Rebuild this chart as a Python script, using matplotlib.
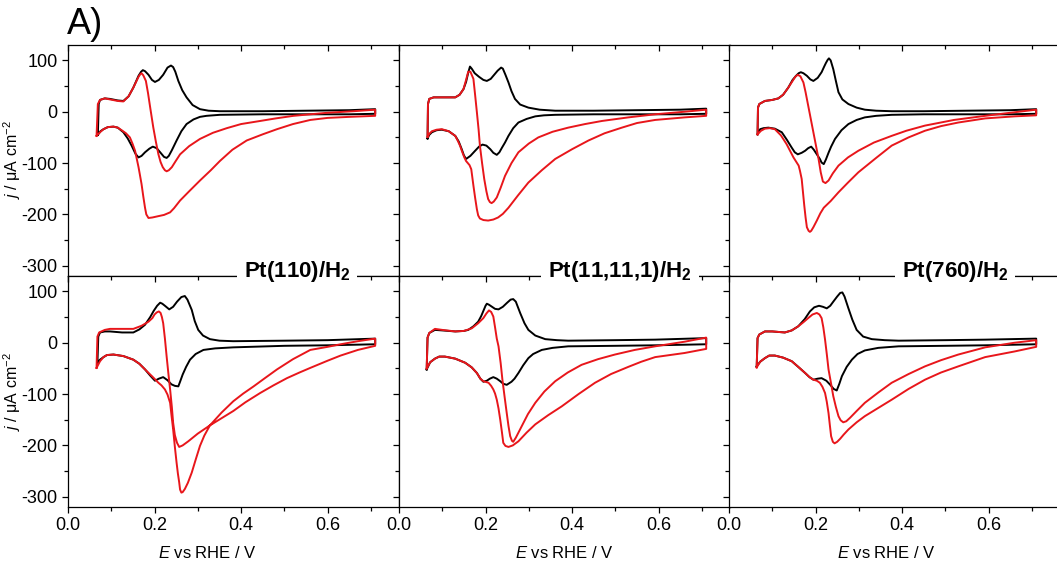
import matplotlib
matplotlib.use("Agg")
import matplotlib.pyplot as plt
from matplotlib.ticker import MultipleLocator

plt.rcParams['font.family'] = ['Liberation Sans', 'DejaVu Sans']
plt.rcParams['mathtext.fontset'] = 'custom'
plt.rcParams['mathtext.rm'] = 'Liberation Sans'
plt.rcParams['mathtext.it'] = 'Liberation Sans:italic'
plt.rcParams['mathtext.bf'] = 'Liberation Sans:bold'
plt.rcParams['axes.unicode_minus'] = False

# ---- data: E / V vs RHE, j / uA cm-2 ----
labels = ['Pt(110)/H$_\\mathbf{2}$', 'Pt(11,11,1)/H$_\\mathbf{2}$', 'Pt(760)/H$_\\mathbf{2}$']

# top row, Pt(110)
p1_top_black_E = [0.069, 0.071, 0.074, 0.085, 0.097, 0.115, 0.128, 0.140, 0.151, 0.163, 0.169, 0.173, 0.178, 0.186, 0.194, 0.201, 0.210, 0.220, 0.230, 0.238, 0.243, 0.248, 0.255, 0.264, 0.274, 0.288, 0.305, 0.325, 0.351, 0.45, 0.55, 0.65, 0.71,
                  0.71, 0.65, 0.55, 0.45, 0.351, 0.320, 0.305, 0.290, 0.274, 0.262, 0.251, 0.240, 0.233, 0.228, 0.222, 0.213, 0.205, 0.196, 0.188, 0.178, 0.170, 0.163, 0.156, 0.147, 0.138, 0.128, 0.115, 0.105, 0.092, 0.082, 0.075, 0.069]
p1_top_black_j = [-45, 15, 23, 26, 25, 22, 21, 30, 47, 70, 78, 81, 79, 72, 62, 58, 62, 72, 86, 90, 87, 78, 60, 42, 28, 13, 5, 2, 1, 1, 2, 3, 5,
                  -4, -5, -5, -5, -6, -8, -10, -15, -24, -38, -56, -75, -86, -90, -88, -79, -71, -68, -72, -79, -86, -89, -82, -66, -52, -40, -31, -29, -30, -34, -38, -45]
p1_top_red_E = [0.066, 0.069, 0.074, 0.085, 0.097, 0.115, 0.128, 0.140, 0.151, 0.163, 0.167, 0.170, 0.174, 0.180, 0.185, 0.190, 0.197, 0.203, 0.209, 0.214, 0.219, 0.224, 0.228, 0.233, 0.240, 0.249, 0.259, 0.28, 0.305, 0.335, 0.367, 0.40, 0.444, 0.48, 0.521, 0.56, 0.60, 0.66, 0.71,
                0.71, 0.65, 0.60, 0.56, 0.52, 0.483, 0.45, 0.413, 0.38, 0.351, 0.33, 0.305, 0.28, 0.259, 0.245, 0.236, 0.222, 0.211, 0.195, 0.186, 0.181, 0.178, 0.174, 0.170, 0.166, 0.163, 0.159, 0.155, 0.149, 0.143, 0.134, 0.124, 0.115, 0.105, 0.092, 0.082, 0.074, 0.066]
p1_top_red_j = [-47, 15, 23, 26, 24, 21, 20, 30, 47, 68, 73, 75, 71, 60, 36, 8, -30, -58, -83, -98, -108, -114, -116, -114, -108, -96, -83, -67, -53, -41, -32, -24, -18, -13, -8, -5, -2, 1, 4,
                -8, -10, -12, -16, -24, -34, -44, -56, -74, -96, -114, -134, -155, -173, -188, -196, -201, -203, -206, -207, -200, -187, -165, -141, -122, -108, -92, -76, -62, -50, -42, -36, -31, -29, -30, -34, -40, -47]

# top row, Pt(11,11,1)
p2_top_black_E = [0.066, 0.067, 0.070, 0.080, 0.091, 0.110, 0.130, 0.140, 0.149, 0.155, 0.160, 0.164, 0.168, 0.175, 0.185, 0.195, 0.203, 0.212, 0.220, 0.228, 0.236, 0.240, 0.246, 0.253, 0.260, 0.268, 0.280, 0.299, 0.325, 0.361, 0.45, 0.55, 0.65, 0.71,
                  0.71, 0.65, 0.55, 0.45, 0.361, 0.335, 0.315, 0.295, 0.276, 0.264, 0.253, 0.245, 0.238, 0.232, 0.226, 0.218, 0.211, 0.202, 0.193, 0.185, 0.176, 0.165, 0.155, 0.150, 0.145, 0.138, 0.130, 0.115, 0.099, 0.087, 0.076, 0.070, 0.066]
p2_top_black_j = [-52, 15, 25, 28, 28, 28, 28, 33, 44, 58, 76, 88, 84, 75, 68, 62, 60, 64, 72, 80, 86, 84, 72, 57, 40, 25, 14, 8, 4, 2, 2, 3, 4, 6,
                  -4, -5, -5, -5, -6, -7, -9, -14, -21, -32, -47, -60, -70, -79, -84, -80, -73, -66, -64, -68, -76, -86, -92, -85, -73, -58, -47, -38, -35, -36, -40, -45, -52]
p2_top_red_E = [0.066, 0.067, 0.070, 0.080, 0.091, 0.110, 0.130, 0.140, 0.149, 0.155, 0.160, 0.165, 0.172, 0.176, 0.180, 0.184, 0.187, 0.192, 0.197, 0.202, 0.206, 0.210, 0.214, 0.219, 0.226, 0.235, 0.245, 0.26, 0.276, 0.30, 0.322, 0.355, 0.391, 0.43, 0.469, 0.53, 0.592, 0.66, 0.71,
                0.71, 0.66, 0.592, 0.55, 0.515, 0.475, 0.438, 0.40, 0.361, 0.33, 0.299, 0.275, 0.253, 0.240, 0.229, 0.218, 0.206, 0.195, 0.187, 0.183, 0.180, 0.176, 0.172, 0.167, 0.163, 0.159, 0.155, 0.151, 0.146, 0.141, 0.135, 0.130, 0.115, 0.099, 0.087, 0.076, 0.070, 0.066]
p2_top_red_j = [-49, 15, 25, 28, 28, 28, 28, 33, 44, 62, 78, 78, 64, 32, -1, -35, -66, -100, -131, -155, -170, -176, -178, -175, -167, -148, -125, -100, -79, -62, -50, -39, -31, -24, -18, -11, -5, 0, 4,
                -8, -11, -16, -22, -31, -42, -56, -73, -92, -114, -138, -163, -187, -199, -206, -210, -212, -211, -208, -202, -190, -168, -144, -112, -104, -100, -96, -89, -78, -66, -55, -47, -38, -34, -35, -38, -43, -49]

# top row, Pt(760)
p3_top_black_E = [0.066, 0.067, 0.070, 0.083, 0.100, 0.114, 0.125, 0.137, 0.147, 0.155, 0.161, 0.166, 0.172, 0.180, 0.188, 0.195, 0.205, 0.214, 0.220, 0.224, 0.228, 0.231, 0.235, 0.241, 0.247, 0.253, 0.262, 0.276, 0.295, 0.314, 0.340, 0.376, 0.45, 0.55, 0.65, 0.71,
                  0.71, 0.65, 0.55, 0.45, 0.376, 0.340, 0.314, 0.295, 0.276, 0.260, 0.245, 0.236, 0.230, 0.224, 0.219, 0.214, 0.210, 0.203, 0.196, 0.190, 0.183, 0.176, 0.168, 0.159, 0.152, 0.145, 0.134, 0.122, 0.106, 0.091, 0.080, 0.072, 0.066]
p3_top_black_j = [-44, 8, 15, 21, 23, 26, 33, 47, 62, 70, 75, 77, 75, 70, 63, 60, 66, 77, 88, 95, 101, 104, 100, 83, 60, 38, 24, 15, 8, 4, 2, 1, 1, 2, 3, 5,
                  -4, -5, -5, -5, -6, -8, -11, -16, -24, -36, -53, -68, -80, -93, -102, -99, -92, -83, -74, -68, -71, -76, -80, -83, -79, -70, -55, -40, -33, -31, -32, -34, -44]
p3_top_red_E = [0.066, 0.067, 0.070, 0.083, 0.100, 0.114, 0.125, 0.137, 0.147, 0.153, 0.159, 0.165, 0.172, 0.177, 0.183, 0.189, 0.195, 0.201, 0.207, 0.212, 0.217, 0.223, 0.230, 0.240, 0.253, 0.275, 0.299, 0.335, 0.376, 0.41, 0.453, 0.52, 0.592, 0.66, 0.71,
                0.71, 0.66, 0.592, 0.530, 0.49, 0.453, 0.415, 0.376, 0.34, 0.299, 0.275, 0.253, 0.235, 0.219, 0.211, 0.203, 0.195, 0.190, 0.187, 0.184, 0.180, 0.177, 0.174, 0.171, 0.168, 0.164, 0.161, 0.155, 0.149, 0.141, 0.133, 0.120, 0.106, 0.094, 0.083, 0.074, 0.066]
p3_top_red_j = [-44, 8, 15, 21, 23, 26, 33, 47, 60, 68, 72, 69, 57, 38, 12, -14, -40, -66, -92, -118, -136, -139, -134, -120, -105, -89, -76, -60, -47, -37, -27, -16, -8, -1, 4,
                -7, -9, -13, -21, -28, -37, -50, -66, -90, -118, -138, -157, -174, -187, -198, -212, -225, -232, -234, -232, -225, -206, -183, -157, -131, -115, -105, -97, -89, -76, -63, -46, -34, -32, -33, -37, -44]

# bottom row, Pt(110)
p1_bot_black_E = [0.068, 0.070, 0.074, 0.085, 0.097, 0.125, 0.151, 0.165, 0.178, 0.190, 0.198, 0.206, 0.213, 0.218, 0.224, 0.234, 0.243, 0.252, 0.262, 0.270, 0.276, 0.286, 0.293, 0.301, 0.312, 0.328, 0.35, 0.382, 0.50, 0.60, 0.71,
                  0.71, 0.60, 0.50, 0.382, 0.34, 0.313, 0.295, 0.282, 0.273, 0.265, 0.259, 0.255, 0.247, 0.239, 0.230, 0.220, 0.210, 0.201, 0.190, 0.178, 0.165, 0.151, 0.128, 0.105, 0.090, 0.082, 0.074, 0.068]
p1_bot_black_j = [-39, 12, 20, 22, 22, 20, 20, 26, 35, 50, 62, 72, 78, 76, 72, 65, 70, 80, 89, 91, 84, 64, 42, 25, 14, 7, 4, 3, 4, 5, 8,
                  -3, -5, -6, -9, -11, -14, -22, -33, -47, -62, -76, -85, -84, -81, -73, -67, -70, -74, -64, -52, -41, -33, -26, -23, -24, -28, -33, -39]
p1_bot_red_E = [0.066, 0.068, 0.072, 0.085, 0.097, 0.125, 0.151, 0.170, 0.186, 0.195, 0.200, 0.205, 0.210, 0.214, 0.217, 0.220, 0.224, 0.228, 0.232, 0.236, 0.240, 0.243, 0.247, 0.252, 0.257, 0.265, 0.278, 0.30, 0.328, 0.355, 0.382, 0.41, 0.444, 0.475, 0.506, 0.535, 0.560, 0.60, 0.63, 0.67, 0.71,
                0.71, 0.67, 0.63, 0.60, 0.560, 0.52, 0.483, 0.455, 0.429, 0.405, 0.382, 0.355, 0.328, 0.315, 0.305, 0.295, 0.286, 0.277, 0.270, 0.265, 0.262, 0.259, 0.257, 0.254, 0.251, 0.247, 0.243, 0.239, 0.236, 0.230, 0.224, 0.216, 0.209, 0.195, 0.178, 0.165, 0.151, 0.128, 0.105, 0.090, 0.082, 0.074, 0.066]
p1_bot_red_j = [-49, 12, 20, 25, 27, 27, 27, 33, 41, 48, 55, 59, 61, 58, 50, 38, 8, -27, -60, -91, -125, -156, -180, -195, -203, -200, -192, -177, -161, -147, -133, -116, -98, -83, -69, -58, -49, -35, -25, -14, -6,
                8, 3, -3, -8, -14, -32, -52, -69, -85, -99, -114, -136, -161, -181, -201, -228, -253, -273, -285, -291, -292, -286, -272, -255, -234, -203, -169, -140, -117, -101, -91, -83, -78, -66, -52, -41, -33, -26, -23, -24, -28, -36, -49]

# bottom row, Pt(11,11,1)
p2_bot_black_E = [0.064, 0.066, 0.070, 0.083, 0.100, 0.130, 0.150, 0.160, 0.172, 0.183, 0.190, 0.195, 0.200, 0.203, 0.208, 0.215, 0.222, 0.230, 0.240, 0.250, 0.258, 0.264, 0.270, 0.280, 0.290, 0.299, 0.315, 0.338, 0.365, 0.391, 0.50, 0.592, 0.71,
                  0.71, 0.592, 0.50, 0.391, 0.355, 0.330, 0.310, 0.299, 0.287, 0.276, 0.267, 0.260, 0.249, 0.241, 0.234, 0.226, 0.218, 0.210, 0.203, 0.195, 0.188, 0.180, 0.168, 0.153, 0.130, 0.106, 0.093, 0.083, 0.072, 0.064]
p2_bot_black_j = [-52, 10, 19, 25, 24, 22, 23, 25, 32, 41, 52, 62, 72, 76, 74, 70, 66, 65, 70, 78, 84, 85, 80, 58, 38, 25, 14, 7, 5, 4, 5, 6, 9,
                  -3, -5, -6, -7, -10, -14, -22, -30, -44, -59, -70, -76, -82, -80, -75, -70, -67, -70, -74, -76, -70, -59, -48, -39, -31, -27, -27, -31, -38, -52]
p2_bot_red_E = [0.064, 0.066, 0.070, 0.083, 0.100, 0.130, 0.150, 0.168, 0.183, 0.195, 0.202, 0.208, 0.213, 0.218, 0.222, 0.226, 0.230, 0.235, 0.239, 0.244, 0.249, 0.253, 0.257, 0.261, 0.264, 0.270, 0.284, 0.298, 0.315, 0.336, 0.361, 0.39, 0.422, 0.46, 0.499, 0.545, 0.592, 0.66, 0.71,
                0.71, 0.66, 0.592, 0.560, 0.530, 0.49, 0.453, 0.415, 0.376, 0.345, 0.315, 0.295, 0.276, 0.263, 0.253, 0.246, 0.241, 0.238, 0.234, 0.230, 0.226, 0.222, 0.218, 0.213, 0.207, 0.195, 0.188, 0.180, 0.168, 0.153, 0.130, 0.106, 0.093, 0.083, 0.072, 0.064]
p2_bot_red_j = [-50, 10, 19, 27, 25, 22, 23, 28, 38, 48, 57, 63, 60, 51, 30, 8, -7, -40, -72, -105, -137, -162, -182, -191, -193, -185, -162, -139, -117, -95, -75, -58, -43, -32, -23, -14, -7, 2, 10,
                -12, -20, -28, -37, -47, -61, -78, -100, -124, -141, -159, -175, -192, -200, -203, -201, -195, -175, -150, -128, -111, -99, -91, -84, -78, -75, -70, -59, -48, -39, -31, -27, -27, -31, -38, -50]

# bottom row, Pt(760)
p3_bot_black_E = [0.064, 0.066, 0.070, 0.083, 0.100, 0.129, 0.145, 0.160, 0.175, 0.187, 0.197, 0.208, 0.217, 0.226, 0.234, 0.241, 0.250, 0.257, 0.262, 0.267, 0.276, 0.285, 0.295, 0.310, 0.330, 0.36, 0.392, 0.50, 0.592, 0.71,
                  0.71, 0.592, 0.50, 0.392, 0.345, 0.314, 0.297, 0.284, 0.272, 0.261, 0.255, 0.249, 0.242, 0.234, 0.225, 0.214, 0.205, 0.195, 0.186, 0.176, 0.160, 0.145, 0.125, 0.106, 0.093, 0.083, 0.072, 0.064]
p3_bot_black_j = [-46, 9, 16, 22, 22, 20, 24, 32, 46, 61, 69, 72, 70, 67, 72, 80, 90, 97, 98, 90, 67, 45, 25, 12, 7, 5, 4, 5, 6, 8,
                  -3, -5, -6, -7, -10, -15, -22, -33, -47, -65, -80, -93, -90, -82, -74, -69, -70, -72, -67, -59, -47, -36, -29, -25, -25, -30, -37, -46]
p3_bot_red_E = [0.064, 0.066, 0.070, 0.083, 0.100, 0.129, 0.145, 0.160, 0.172, 0.183, 0.193, 0.203, 0.209, 0.214, 0.218, 0.222, 0.226, 0.230, 0.236, 0.241, 0.247, 0.253, 0.258, 0.264, 0.271, 0.280, 0.295, 0.314, 0.345, 0.376, 0.415, 0.453, 0.49, 0.530, 0.592, 0.66, 0.71,
                0.71, 0.66, 0.592, 0.530, 0.49, 0.453, 0.415, 0.376, 0.345, 0.314, 0.295, 0.276, 0.265, 0.257, 0.250, 0.244, 0.240, 0.236, 0.233, 0.230, 0.226, 0.222, 0.216, 0.210, 0.203, 0.195, 0.186, 0.176, 0.160, 0.145, 0.125, 0.106, 0.093, 0.083, 0.072, 0.064]
p3_bot_red_j = [-48, 9, 16, 22, 22, 20, 24, 32, 40, 48, 55, 58, 55, 48, 30, 6, -22, -52, -80, -104, -125, -143, -151, -155, -153, -146, -133, -117, -97, -78, -61, -46, -34, -23, -9, 0, 5,
                -8, -17, -28, -46, -58, -72, -90, -111, -127, -143, -155, -169, -179, -187, -193, -196, -193, -182, -160, -137, -115, -98, -86, -78, -74, -72, -67, -59, -47, -36, -29, -25, -25, -30, -37, -48]

curves = [
    [(p1_top_black_E, p1_top_black_j, p1_top_red_E, p1_top_red_j),
     (p2_top_black_E, p2_top_black_j, p2_top_red_E, p2_top_red_j),
     (p3_top_black_E, p3_top_black_j, p3_top_red_E, p3_top_red_j)],
    [(p1_bot_black_E, p1_bot_black_j, p1_bot_red_E, p1_bot_red_j),
     (p2_bot_black_E, p2_bot_black_j, p2_bot_red_E, p2_bot_red_j),
     (p3_bot_black_E, p3_bot_black_j, p3_bot_red_E, p3_bot_red_j)],
]

W, H = 1057, 566
fig = plt.figure(figsize=(W / 100, H / 100), dpi=100)

col_left = [68, 399, 729]
pw = 331
row_top = [45, 276]
ph = 231
red = '#e8161b'

for r in range(2):
    for c in range(3):
        ax = fig.add_axes([col_left[c] / W, 1 - (row_top[r] + ph) / H, pw / W, ph / H])
        bE, bj, rE, rj = curves[r][c]
        ax.plot(bE, bj, color='black', lw=1.4, solid_joinstyle='round')
        ax.plot(rE, rj, color=red, lw=1.4, solid_joinstyle='round')
        ax.set_xlim(0, 0.765)
        ax.set_ylim(-320, 130)
        ax.xaxis.set_major_locator(MultipleLocator(0.2))
        ax.xaxis.set_minor_locator(MultipleLocator(0.1))
        ax.yaxis.set_major_locator(MultipleLocator(100))
        ax.yaxis.set_minor_locator(MultipleLocator(50))
        ax.tick_params(which='both', top=True, right=True, direction='out', labelsize=13, width=0.9)
        ax.tick_params(which='major', length=4)
        ax.tick_params(which='minor', length=3)
        # inward ticks on top/right
        for t in ax.xaxis.get_major_ticks() + ax.xaxis.get_minor_ticks():
            t.tick2line.set_marker(3)
        for t in ax.yaxis.get_major_ticks() + ax.yaxis.get_minor_ticks():
            t.tick2line.set_marker(1)
        ax.xaxis.set_major_formatter(plt.FuncFormatter(lambda v, p: '%.1f' % v))
        ax.yaxis.set_major_formatter(plt.FuncFormatter(lambda v, p: '%d' % round(v)))
        if r == 0:
            ax.tick_params(axis='x', labelbottom=False)
        if c > 0:
            ax.tick_params(axis='y', labelleft=False)
        for s in ax.spines.values():
            s.set_linewidth(0.9)

# condition labels on the row boundary
label_cx = [297, 620, 955]
for c in range(3):
    fig.text(label_cx[c] / W, 1 - 272 / H, labels[c], ha='center', va='center',
             fontsize=16, fontweight='bold', zorder=10,
             bbox=dict(facecolor='white', edgecolor='none', pad=5))

for cx in [207, 564, 886]:
    fig.text(cx / W, 1 - 553 / H, '$E$ vs RHE / V', ha='center', va='center', fontsize=12)
for cy in [160, 392]:
    fig.text(12 / W, 1 - cy / H, '$j$ / μA cm$^{-2}$', ha='center', va='center',
             rotation=90, fontsize=11.5)

fig.text(67 / W, 1 - 24 / H, 'A)', ha='left', va='center', fontsize=26)

fig.savefig('out.png', dpi=100)
